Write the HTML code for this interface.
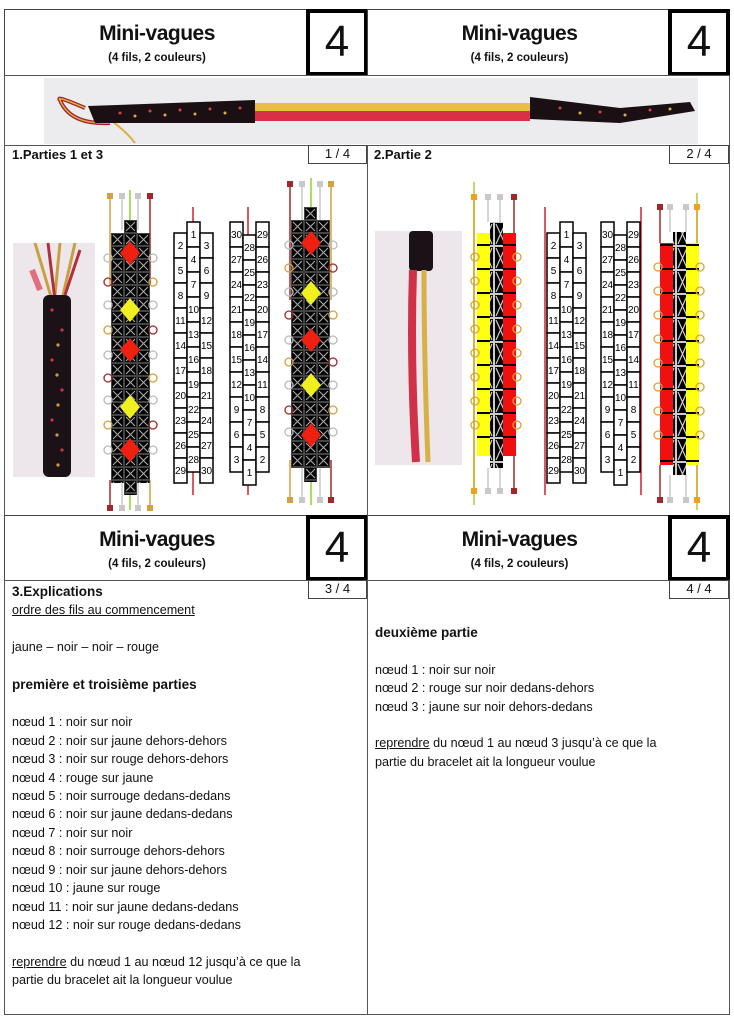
<!DOCTYPE html>
<html><head><meta charset="utf-8">
<style>
html,body{margin:0;padding:0;background:#fff;}
body{width:734px;height:1024px;position:relative;overflow:hidden;font-family:"Liberation Sans",sans-serif;color:#111;}
.a{position:absolute;box-sizing:border-box;}
.hdr{border:1.5px solid #444;background:#fff;text-align:center;}
.t1{font-size:21px;font-weight:bold;position:absolute;width:100%;text-align:center;letter-spacing:-0.5px}
.t2{font-size:11.5px;font-weight:bold;position:absolute;width:100%;text-align:center}
.num{border:4px solid #000;background:#fff;font-size:44px;text-align:center;line-height:58px;}
.pg{border:1.5px solid #444;background:#fff;font-size:13px;text-align:center;line-height:16px;}
.txt{font-size:12.6px;line-height:18.4px;white-space:nowrap;}
u{text-decoration:underline;}
</style></head><body>

<div class="a" style="left:4px;top:9px;width:726px;height:1006px;border:1.5px solid #555;"></div>

<div class="a hdr" style="left:4px;top:9px;width:306px;height:67px;">
 <div class="t1" style="top:12px">Mini-vagues</div><div class="t2" style="top:42px">(4 fils, 2 couleurs)</div></div>
<div class="a num" style="left:306px;top:9px;width:62px;height:67px;">4</div>
<div class="a hdr" style="left:367px;top:9px;width:305px;height:67px;">
 <div class="t1" style="top:12px">Mini-vagues</div><div class="t2" style="top:42px">(4 fils, 2 couleurs)</div></div>
<div class="a num" style="left:668px;top:9px;width:62px;height:67px;">4</div>

<div class="a" style="left:4px;top:75px;width:726px;height:71px;border:1.5px solid #555;background:#fff;"></div>
<svg class="a" style="left:0;top:0" width="734" height="150">
 <rect x="44" y="78" width="654" height="66" fill="#ecebee"/>
 <path d="M85 108 Q55 95 60 100 Q70 125 110 123" fill="none" stroke="#a02030" stroke-width="4"/>
 <path d="M85 108 Q55 95 60 100 Q70 125 110 123" fill="none" stroke="#d8b040" stroke-width="1.5"/>
 <path d="M110 120 Q125 130 135 143" stroke="#d8b040" stroke-width="2" fill="none"/>
 <path d="M88 106 L255 100 L255 123 L95 123 Z" fill="#1a1014"/>
 <rect x="255" y="103" width="275" height="9" fill="#e8c040"/>
 <rect x="255" y="111" width="275" height="10" fill="#d83048"/>
 <path d="M530 97 L620 108 L690 102 L695 111 L620 123 L530 119 Z" fill="#1a1014"/>
 <g fill="#d84050"><circle cx="120" cy="113" r="1.5"/><circle cx="150" cy="111" r="1.5"/><circle cx="180" cy="110" r="1.5"/><circle cx="210" cy="109" r="1.5"/><circle cx="240" cy="108" r="1.5"/><circle cx="560" cy="108" r="1.5"/><circle cx="600" cy="112" r="1.5"/><circle cx="650" cy="110" r="1.5"/></g>
 <g fill="#d8b040"><circle cx="135" cy="116" r="1.5"/><circle cx="165" cy="115" r="1.5"/><circle cx="195" cy="114" r="1.5"/><circle cx="225" cy="113" r="1.5"/><circle cx="580" cy="113" r="1.5"/><circle cx="625" cy="115" r="1.5"/><circle cx="670" cy="109" r="1.5"/></g>
</svg>

<div class="a" style="left:4px;top:145px;width:364px;height:371px;border:1.5px solid #555;"></div>
<div class="a" style="left:367px;top:145px;width:363px;height:371px;border:1.5px solid #555;"></div>
<div class="a" style="left:12px;top:147px;font-size:13px;font-weight:bold;">1.Parties 1 et 3</div>
<div class="a pg" style="left:308px;top:145px;width:59px;height:19px;">1 / 4</div>
<div class="a" style="left:374px;top:147px;font-size:13px;font-weight:bold;">2.Partie 2</div>
<div class="a pg" style="left:669px;top:145px;width:60px;height:19px;">2 / 4</div>

<svg class="a" style="left:0;top:0" width="734" height="520">
 <defs>
  <pattern id="kn" x="111" y="220" width="13" height="13" patternUnits="userSpaceOnUse">
   <rect width="13" height="13" fill="#000"/>
   <path d="M2 2L11 11M11 2L2 11" stroke="#aaa" stroke-width="1.1"/>
   <rect x="0.5" y="0.5" width="12" height="12" fill="none" stroke="#888" stroke-width="0.5"/>
  </pattern>
  <pattern id="kn2" x="291" y="220" width="13" height="13" patternUnits="userSpaceOnUse">
   <rect width="13" height="13" fill="#000"/>
   <path d="M2 2L11 11M11 2L2 11" stroke="#aaa" stroke-width="1.1"/>
   <rect x="0.5" y="0.5" width="12" height="12" fill="none" stroke="#888" stroke-width="0.5"/>
  </pattern>
  <pattern id="bw" x="0" y="222" width="13" height="24" patternUnits="userSpaceOnUse">
   <rect width="13" height="24" fill="#000"/>
   <path d="M2 2L11 22M11 2L2 22" stroke="#ccc" stroke-width="1.2"/>
   <rect x="0.5" y="0.5" width="12" height="23" fill="none" stroke="#fff" stroke-width="0.8"/>
  </pattern>
  <pattern id="bar" x="0" y="233" width="13" height="24" patternUnits="userSpaceOnUse">
   <rect y="11" width="13" height="2" fill="#000"/>
  </pattern>
  <g id="gA" font-size="10" font-family="Liberation Sans" text-anchor="middle" fill="#000">
   <g fill="#fff" stroke="#000" stroke-width="1.5">
    <rect x="0" y="11" width="13" height="25"/><rect x="0" y="36" width="13" height="25"/><rect x="0" y="61" width="13" height="25"/><rect x="0" y="86" width="13" height="25"/><rect x="0" y="111" width="13" height="25"/><rect x="0" y="136" width="13" height="25"/><rect x="0" y="161" width="13" height="25"/><rect x="0" y="186" width="13" height="25"/><rect x="0" y="211" width="13" height="25"/><rect x="0" y="236" width="13" height="25"/>
    <rect x="13" y="0" width="13" height="25"/><rect x="13" y="25" width="13" height="25"/><rect x="13" y="50" width="13" height="25"/><rect x="13" y="75" width="13" height="25"/><rect x="13" y="100" width="13" height="25"/><rect x="13" y="125" width="13" height="25"/><rect x="13" y="150" width="13" height="25"/><rect x="13" y="175" width="13" height="25"/><rect x="13" y="200" width="13" height="25"/><rect x="13" y="225" width="13" height="25"/>
    <rect x="26" y="11" width="13" height="25"/><rect x="26" y="36" width="13" height="25"/><rect x="26" y="61" width="13" height="25"/><rect x="26" y="86" width="13" height="25"/><rect x="26" y="111" width="13" height="25"/><rect x="26" y="136" width="13" height="25"/><rect x="26" y="161" width="13" height="25"/><rect x="26" y="186" width="13" height="25"/><rect x="26" y="211" width="13" height="25"/><rect x="26" y="236" width="13" height="25"/>
   </g>
   <text x="6.5" y="27">2</text><text x="6.5" y="52">5</text><text x="6.5" y="77">8</text><text x="6.5" y="102">11</text><text x="6.5" y="127">14</text><text x="6.5" y="152">17</text><text x="6.5" y="177">20</text><text x="6.5" y="202">23</text><text x="6.5" y="227">26</text><text x="6.5" y="252">29</text>
   <text x="19.5" y="16">1</text><text x="19.5" y="41">4</text><text x="19.5" y="66">7</text><text x="19.5" y="91">10</text><text x="19.5" y="116">13</text><text x="19.5" y="141">16</text><text x="19.5" y="166">19</text><text x="19.5" y="191">22</text><text x="19.5" y="216">25</text><text x="19.5" y="241">28</text>
   <text x="32.5" y="27">3</text><text x="32.5" y="52">6</text><text x="32.5" y="77">9</text><text x="32.5" y="102">12</text><text x="32.5" y="127">15</text><text x="32.5" y="152">18</text><text x="32.5" y="177">21</text><text x="32.5" y="202">24</text><text x="32.5" y="227">27</text><text x="32.5" y="252">30</text>
  </g>
  <g id="gB" font-size="10" font-family="Liberation Sans" text-anchor="middle" fill="#000">
   <g fill="#fff" stroke="#000" stroke-width="1.5">
    <rect x="0" y="0" width="13" height="25"/><rect x="0" y="25" width="13" height="25"/><rect x="0" y="50" width="13" height="25"/><rect x="0" y="75" width="13" height="25"/><rect x="0" y="100" width="13" height="25"/><rect x="0" y="125" width="13" height="25"/><rect x="0" y="150" width="13" height="25"/><rect x="0" y="175" width="13" height="25"/><rect x="0" y="200" width="13" height="25"/><rect x="0" y="225" width="13" height="25"/>
    <rect x="13" y="13" width="13" height="25"/><rect x="13" y="38" width="13" height="25"/><rect x="13" y="63" width="13" height="25"/><rect x="13" y="88" width="13" height="25"/><rect x="13" y="113" width="13" height="25"/><rect x="13" y="138" width="13" height="25"/><rect x="13" y="163" width="13" height="25"/><rect x="13" y="188" width="13" height="25"/><rect x="13" y="213" width="13" height="25"/><rect x="13" y="238" width="13" height="25"/>
    <rect x="26" y="0" width="13" height="25"/><rect x="26" y="25" width="13" height="25"/><rect x="26" y="50" width="13" height="25"/><rect x="26" y="75" width="13" height="25"/><rect x="26" y="100" width="13" height="25"/><rect x="26" y="125" width="13" height="25"/><rect x="26" y="150" width="13" height="25"/><rect x="26" y="175" width="13" height="25"/><rect x="26" y="200" width="13" height="25"/><rect x="26" y="225" width="13" height="25"/>
   </g>
   <text x="6.5" y="16">30</text><text x="6.5" y="41">27</text><text x="6.5" y="66">24</text><text x="6.5" y="91">21</text><text x="6.5" y="116">18</text><text x="6.5" y="141">15</text><text x="6.5" y="166">12</text><text x="6.5" y="191">9</text><text x="6.5" y="216">6</text><text x="6.5" y="241">3</text>
   <text x="19.5" y="29">28</text><text x="19.5" y="54">25</text><text x="19.5" y="79">22</text><text x="19.5" y="104">19</text><text x="19.5" y="129">16</text><text x="19.5" y="154">13</text><text x="19.5" y="179">10</text><text x="19.5" y="204">7</text><text x="19.5" y="229">4</text><text x="19.5" y="254">1</text>
   <text x="32.5" y="16">29</text><text x="32.5" y="41">26</text><text x="32.5" y="66">23</text><text x="32.5" y="91">20</text><text x="32.5" y="116">17</text><text x="32.5" y="141">14</text><text x="32.5" y="166">11</text><text x="32.5" y="191">8</text><text x="32.5" y="216">5</text><text x="32.5" y="241">2</text>
  </g>
 </defs>

 <rect x="13" y="243" width="82" height="234" fill="#ede6ea"/>
 <path d="M35 243 L52 300 M60 243 L55 295 M75 243 L62 300" stroke="#c8a040" stroke-width="3"/>
 <path d="M48 243 L55 300 M80 250 L65 295" stroke="#b03040" stroke-width="3"/>
 <path d="M40 290 L32 270" stroke="#e07080" stroke-width="6"/>
 <rect x="43" y="295" width="28" height="182" rx="6" fill="#1a1216"/>
 <g fill="#c83848"><circle cx="52" cy="310" r="1.6"/><circle cx="62" cy="330" r="1.6"/><circle cx="52" cy="360" r="1.6"/><circle cx="62" cy="390" r="1.6"/><circle cx="52" cy="420" r="1.6"/><circle cx="62" cy="450" r="1.6"/></g>
 <g fill="#c8a040"><circle cx="58" cy="345" r="1.6"/><circle cx="57" cy="375" r="1.6"/><circle cx="58" cy="405" r="1.6"/><circle cx="57" cy="435" r="1.6"/><circle cx="58" cy="465" r="1.6"/></g>

 <g stroke-width="1.5" fill="none">
  <path d="M110 197V285" stroke="#d4a040"/><path d="M122 197V230" stroke="#c8c8c8"/><path d="M130 190V510" stroke="#90d030"/><path d="M138 197V230" stroke="#c8c8c8"/><path d="M150 197V285" stroke="#a02828"/>
  <path d="M110 480V508" stroke="#a02828"/><path d="M122 480V508" stroke="#c8c8c8"/><path d="M138 480V508" stroke="#c8c8c8"/><path d="M150 480V508" stroke="#d4a040"/>
 </g>
 <rect x="107" y="193" width="6" height="6" fill="#d4a040"/><rect x="119" y="193" width="6" height="6" fill="#c8c8c8"/><rect x="135" y="193" width="6" height="6" fill="#c8c8c8"/><rect x="147" y="193" width="6" height="6" fill="#a02828"/>
 <rect x="107" y="505" width="6" height="6" fill="#a02828"/><rect x="119" y="505" width="6" height="6" fill="#c8c8c8"/><rect x="135" y="505" width="6" height="6" fill="#c8c8c8"/><rect x="147" y="505" width="6" height="6" fill="#d4a040"/>
 <rect x="124" y="220" width="13" height="275" fill="url(#kn)"/>
 <rect x="111" y="233" width="39" height="250" fill="url(#kn)"/>
 <g fill="#f02010"><path d="M130 241L140 253L130 265L120 253Z"/><path d="M130 338L140 350L130 362L120 350Z"/><path d="M130 438L140 450L130 462L120 450Z"/></g>
 <g fill="#f0f020"><path d="M130 298L140 310L130 322L120 310Z"/><path d="M130 395L140 407L130 419L120 407Z"/></g>
 <g fill="none" stroke="#bbb" stroke-width="1.3">
  <circle cx="108" cy="258" r="4"/><circle cx="108" cy="305" r="4"/><circle cx="108" cy="355" r="4"/><circle cx="108" cy="400" r="4"/><circle cx="108" cy="450" r="4"/>
  <circle cx="153" cy="258" r="4"/><circle cx="153" cy="305" r="4"/><circle cx="153" cy="355" r="4"/><circle cx="153" cy="400" r="4"/><circle cx="153" cy="450" r="4"/>
 </g>
 <g fill="none" stroke-width="1.3">
  <circle cx="108" cy="282" r="4" stroke="#a02828"/><circle cx="153" cy="282" r="4" stroke="#d4a040"/><circle cx="108" cy="330" r="4" stroke="#d4a040"/><circle cx="153" cy="330" r="4" stroke="#a02828"/><circle cx="108" cy="378" r="4" stroke="#a02828"/><circle cx="153" cy="378" r="4" stroke="#d4a040"/><circle cx="108" cy="425" r="4" stroke="#d4a040"/><circle cx="153" cy="425" r="4" stroke="#a02828"/>
 </g>

 <path d="M193 207V495" stroke="#d02030" stroke-width="1.5"/>
 <use href="#gA" x="174" y="222"/>
 <path d="M248 207V495" stroke="#d02030" stroke-width="1.5"/>
 <use href="#gB" x="230" y="222"/>

 <g stroke-width="1.5" fill="none">
  <path d="M290 183V300" stroke="#a02828"/><path d="M302 183V230" stroke="#c8c8c8"/><path d="M311 178V505" stroke="#90d030"/><path d="M320 183V230" stroke="#c8c8c8"/><path d="M331 183V300" stroke="#d4a040"/>
  <path d="M290 460V500" stroke="#d4a040"/><path d="M302 460V500" stroke="#c8c8c8"/><path d="M320 460V500" stroke="#c8c8c8"/><path d="M331 460V500" stroke="#a02828"/>
 </g>
 <rect x="287" y="181" width="6" height="6" fill="#a02828"/><rect x="299" y="181" width="6" height="6" fill="#c8c8c8"/><rect x="317" y="181" width="6" height="6" fill="#c8c8c8"/><rect x="328" y="181" width="6" height="6" fill="#d4a040"/>
 <rect x="287" y="497" width="6" height="6" fill="#d4a040"/><rect x="299" y="497" width="6" height="6" fill="#c8c8c8"/><rect x="317" y="497" width="6" height="6" fill="#c8c8c8"/><rect x="328" y="497" width="6" height="6" fill="#a02828"/>
 <rect x="304" y="207" width="13" height="275" fill="url(#kn2)"/>
 <rect x="291" y="220" width="39" height="248" fill="url(#kn2)"/>
 <g fill="#f02010"><path d="M311 231L321 243L311 255L301 243Z"/><path d="M311 328L321 340L311 352L301 340Z"/><path d="M311 423L321 435L311 447L301 435Z"/></g>
 <g fill="#f0f020"><path d="M311 281L321 293L311 305L301 293Z"/><path d="M311 373L321 385L311 397L301 385Z"/></g>
 <g fill="none" stroke="#bbb" stroke-width="1.3">
  <circle cx="289" cy="245" r="4"/><circle cx="289" cy="292" r="4"/><circle cx="289" cy="340" r="4"/><circle cx="289" cy="385" r="4"/><circle cx="289" cy="432" r="4"/>
  <circle cx="333" cy="245" r="4"/><circle cx="333" cy="292" r="4"/><circle cx="333" cy="340" r="4"/><circle cx="333" cy="385" r="4"/><circle cx="333" cy="432" r="4"/>
 </g>
 <g fill="none" stroke-width="1.3">
  <circle cx="289" cy="268" r="4" stroke="#d4a040"/><circle cx="333" cy="268" r="4" stroke="#a02828"/><circle cx="289" cy="315" r="4" stroke="#a02828"/><circle cx="333" cy="315" r="4" stroke="#d4a040"/><circle cx="289" cy="362" r="4" stroke="#d4a040"/><circle cx="333" cy="362" r="4" stroke="#a02828"/><circle cx="289" cy="410" r="4" stroke="#a02828"/><circle cx="333" cy="410" r="4" stroke="#d4a040"/>
 </g>

 <rect x="375" y="231" width="87" height="234" fill="#ede6ea"/>
 <rect x="409" y="231" width="24" height="40" rx="4" fill="#1a1216"/>
 <path d="M413 270 Q410 360 416 462" stroke="#d03048" stroke-width="8" fill="none"/>
 <path d="M424 270 Q424 360 428 462" stroke="#d8b048" stroke-width="5" fill="none"/>

 <path d="M474 182V505" stroke="#a8d030" stroke-width="1.5"/>
 <path d="M474 195V490" stroke="#e0a020" stroke-width="1.5"/>
 <path d="M488 195V222M500 195V222M488 468V490M500 468V490" stroke="#c8c8c8" stroke-width="1.5"/>
 <path d="M514 195V233M514 456V490" stroke="#a02828" stroke-width="1.5"/>
 <rect x="471" y="194" width="6" height="6" fill="#f0a020"/><rect x="485" y="194" width="6" height="6" fill="#c8c8c8"/><rect x="497" y="194" width="6" height="6" fill="#c8c8c8"/><rect x="511" y="194" width="6" height="6" fill="#a02828"/>
 <rect x="471" y="488" width="6" height="6" fill="#f0a020"/><rect x="485" y="488" width="6" height="6" fill="#c8c8c8"/><rect x="497" y="488" width="6" height="6" fill="#c8c8c8"/><rect x="511" y="488" width="6" height="6" fill="#a02828"/>
 <rect x="477" y="233" width="13" height="223" fill="#ffff10"/>
 <rect x="503" y="233" width="13" height="223" fill="#f01010"/>
 <rect x="477" y="233" width="39" height="223" fill="url(#bar)"/>
 <rect x="490" y="222" width="13" height="246" fill="url(#bw)"/>
 <g fill="none" stroke="#e0a030" stroke-width="1.3">
  <circle cx="475" cy="257" r="4"/><circle cx="475" cy="281" r="4"/><circle cx="475" cy="305" r="4"/><circle cx="475" cy="329" r="4"/><circle cx="475" cy="353" r="4"/><circle cx="475" cy="377" r="4"/><circle cx="475" cy="401" r="4"/><circle cx="475" cy="425" r="4"/>
  <circle cx="517" cy="257" r="4"/><circle cx="517" cy="281" r="4"/><circle cx="517" cy="305" r="4"/><circle cx="517" cy="329" r="4"/><circle cx="517" cy="353" r="4"/><circle cx="517" cy="377" r="4"/><circle cx="517" cy="401" r="4"/><circle cx="517" cy="425" r="4"/>
 </g>

 <path d="M545 207V495" stroke="#d02030" stroke-width="1.5"/>
 <use href="#gA" x="547" y="222"/>
 <path d="M641 207V495" stroke="#d02030" stroke-width="1.5"/>
 <use href="#gB" x="601" y="222"/>

 <path d="M697 193V510" stroke="#a8d030" stroke-width="1.5"/>
 <path d="M697 205V497" stroke="#e0a020" stroke-width="1.5"/>
 <path d="M660 205V243M660 465V497" stroke="#a02828" stroke-width="1.5"/>
 <path d="M670 205V232M686 205V232M670 475V497M686 475V497" stroke="#c8c8c8" stroke-width="1.5"/>
 <rect x="657" y="204" width="6" height="6" fill="#a02828"/><rect x="667" y="204" width="6" height="6" fill="#c8c8c8"/><rect x="683" y="204" width="6" height="6" fill="#c8c8c8"/><rect x="694" y="204" width="6" height="6" fill="#f0a020"/>
 <rect x="657" y="497" width="6" height="6" fill="#a02828"/><rect x="667" y="497" width="6" height="6" fill="#c8c8c8"/><rect x="683" y="497" width="6" height="6" fill="#c8c8c8"/><rect x="694" y="497" width="6" height="6" fill="#f0a020"/>
 <rect x="660" y="243" width="13" height="222" fill="#f01010"/>
 <rect x="686" y="243" width="13" height="222" fill="#ffff10"/>
 <rect x="660" y="243" width="39" height="222" fill="url(#bar)"/>
 <rect x="673" y="232" width="13" height="243" fill="url(#bw)"/>
 <g fill="none" stroke="#e0a030" stroke-width="1.3">
  <circle cx="658" cy="267" r="4"/><circle cx="658" cy="291" r="4"/><circle cx="658" cy="315" r="4"/><circle cx="658" cy="339" r="4"/><circle cx="658" cy="363" r="4"/><circle cx="658" cy="387" r="4"/><circle cx="658" cy="411" r="4"/><circle cx="658" cy="435" r="4"/>
  <circle cx="700" cy="267" r="4"/><circle cx="700" cy="291" r="4"/><circle cx="700" cy="315" r="4"/><circle cx="700" cy="339" r="4"/><circle cx="700" cy="363" r="4"/><circle cx="700" cy="387" r="4"/><circle cx="700" cy="411" r="4"/><circle cx="700" cy="435" r="4"/>
 </g>
</svg>

<div class="a hdr" style="left:4px;top:515px;width:306px;height:66px;">
 <div class="t1" style="top:12px">Mini-vagues</div><div class="t2" style="top:42px">(4 fils, 2 couleurs)</div></div>
<div class="a num" style="left:306px;top:515px;width:62px;height:66px;">4</div>
<div class="a hdr" style="left:367px;top:515px;width:305px;height:66px;">
 <div class="t1" style="top:12px">Mini-vagues</div><div class="t2" style="top:42px">(4 fils, 2 couleurs)</div></div>
<div class="a num" style="left:668px;top:515px;width:62px;height:66px;">4</div>

<div class="a" style="left:4px;top:580px;width:364px;height:435px;border:1.5px solid #555;"></div>
<div class="a" style="left:367px;top:580px;width:363px;height:435px;border:1.5px solid #555;"></div>
<div class="a pg" style="left:308px;top:580px;width:59px;height:19px;">3 / 4</div>
<div class="a pg" style="left:669px;top:580px;width:60px;height:19px;">4 / 4</div>

<div class="a txt" style="left:12px;top:583px;">
<div style="font-weight:bold;font-size:13.5px;">3.Explications</div>
<div><u>ordre des fils au commencement</u></div>
<div>&nbsp;</div>
<div>jaune – noir – noir – rouge</div>
<div>&nbsp;</div>
<div style="font-weight:bold;font-size:13.5px;line-height:20px">première et troisième parties</div>
<div>&nbsp;</div>
<div>nœud 1 : noir sur noir</div>
<div>nœud 2 : noir sur jaune dehors-dehors</div>
<div>nœud 3 : noir sur rouge dehors-dehors</div>
<div>nœud 4 : rouge sur jaune</div>
<div>nœud 5 : noir surrouge dedans-dedans</div>
<div>nœud 6 : noir sur jaune dedans-dedans</div>
<div>nœud 7 : noir sur noir</div>
<div>nœud 8 : noir surrouge dehors-dehors</div>
<div>nœud 9 : noir sur jaune dehors-dehors</div>
<div>nœud 10 : jaune sur rouge</div>
<div>nœud 11 : noir sur jaune dedans-dedans</div>
<div>nœud 12 : noir sur rouge dedans-dedans</div>
<div>&nbsp;</div>
<div><u>reprendre</u> du nœud 1 au nœud 12 jusqu’à ce que la</div>
<div>partie du bracelet ait la longueur voulue</div>
</div>

<div class="a txt" style="left:375px;top:624px;">
<div style="font-weight:bold;font-size:13.5px;">deuxième partie</div>
<div>&nbsp;</div>
<div>nœud 1 : noir sur noir</div>
<div>nœud 2 : rouge sur noir dedans-dehors</div>
<div>nœud 3 : jaune sur noir dehors-dedans</div>
<div>&nbsp;</div>
<div><u>reprendre</u> du nœud 1 au nœud 3 jusqu’à ce que la</div>
<div>partie du bracelet ait la longueur voulue</div>
</div>

</body></html>
